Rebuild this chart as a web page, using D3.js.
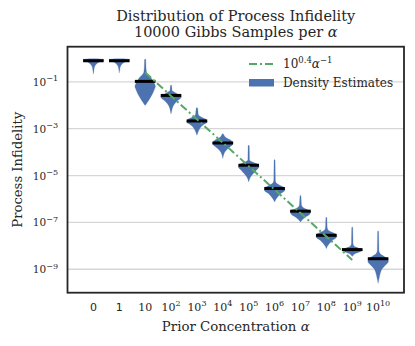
<!DOCTYPE html>
<html><head><meta charset="utf-8">
<script src="https://cdn.jsdelivr.net/npm/d3@7"></script>
<style>
html,body{margin:0;padding:0;background:#fff;}
svg{display:block;}
text{font-family:"DejaVu Serif",serif;fill:#262626;}
</style></head>
<body>
<svg id="chart" width="415" height="346"></svg>
<script>
// ---- data ----
const categories = ["0","1","10","10^2","10^3","10^4","10^5","10^6","10^7","10^8","10^9","10^10"];
// log10 of median process infidelity per prior concentration
const medianLog = [-0.10,-0.10,-0.98,-1.58,-2.67,-3.61,-4.56,-5.55,-6.52,-7.55,-8.16,-8.55];
// density profiles: [log10 infidelity, relative density]
const density0 = [[-0.01,0],[-0.02,0.7],[-0.05,1.0],[-0.09,0.95],[-0.13,0.7],[-0.17,0.48],[-0.24,0.3],[-0.30,0.18],[-0.36,0.12],[-0.45,0.07],[-0.55,0.04],[-0.67,0]];
const density1 = [[-0.01,0],[-0.02,0.7],[-0.05,1.0],[-0.09,0.95],[-0.13,0.68],[-0.17,0.45],[-0.24,0.28],[-0.30,0.16],[-0.36,0.1],[-0.45,0.06],[-0.53,0.03],[-0.62,0]];
const density2 = [[-0.02,0],[-0.05,0.06],[-0.33,0.08],[-0.59,0.13],[-0.66,0.22],[-0.80,0.53],[-0.94,0.75],[-1.09,0.92],[-1.20,1.0],[-1.30,0.92],[-1.51,0.72],[-1.73,0.43],[-1.87,0.22],[-2.01,0]];
const density3 = [[-1.13,0],[-1.16,0.06],[-1.37,0.1],[-1.44,0.33],[-1.51,0.6],[-1.58,0.88],[-1.65,1.0],[-1.72,0.88],[-1.79,0.68],[-1.94,0.35],[-2.08,0.16],[-2.25,0.06],[-2.37,0]];
const density4 = [[-2.09,0],[-2.12,0.06],[-2.42,0.15],[-2.52,0.5],[-2.61,0.9],[-2.71,1.0],[-2.81,0.7],[-2.92,0.4],[-3.06,0.2],[-3.18,0.08],[-3.28,0]];
const density5 = [[-3.21,0],[-3.24,0.06],[-3.38,0.3],[-3.50,0.8],[-3.61,1.0],[-3.70,0.9],[-3.85,0.5],[-3.99,0.2],[-4.13,0.07],[-4.27,0]];
const density6 = [[-3.70,0],[-3.74,0.06],[-4.34,0.08],[-4.42,0.36],[-4.51,0.82],[-4.63,1.0],[-4.77,0.73],[-4.91,0.45],[-5.06,0.18],[-5.17,0.07],[-5.27,0]];
const density7 = [[-4.31,0],[-4.35,0.05],[-5.20,0.08],[-5.31,0.15],[-5.41,0.5],[-5.51,0.9],[-5.63,1.0],[-5.77,0.6],[-5.91,0.3],[-6.02,0.12],[-6.13,0]];
const density8 = [[-5.84,0],[-5.88,0.05],[-6.25,0.1],[-6.34,0.2],[-6.44,0.6],[-6.52,1.0],[-6.65,0.9],[-6.77,0.5],[-6.88,0.2],[-6.98,0]];
const density9 = [[-6.77,0],[-6.81,0.05],[-7.20,0.08],[-7.31,0.15],[-7.41,0.5],[-7.51,0.95],[-7.62,1.0],[-7.76,0.6],[-7.90,0.3],[-8.02,0.1],[-8.12,0]];
const density10 = [[-7.19,0],[-7.23,0.05],[-7.90,0.08],[-8.02,0.2],[-8.09,0.6],[-8.19,1.0],[-8.26,0.7],[-8.33,0.3],[-8.40,0.1],[-8.45,0]];
const density11 = [[-7.36,0],[-7.40,0.05],[-8.20,0.08],[-8.33,0.19],[-8.45,0.58],[-8.55,0.92],[-8.67,1.0],[-8.84,0.68],[-8.98,0.39],[-9.13,0.24],[-9.34,0.12],[-9.48,0.05],[-9.60,0]];
const densities = [density0,density1,density2,density3,density4,density5,density6,density7,density8,density9,density10,density11];
// fit line 10^0.4 * alpha^-1
const fitAlphaExp = [1,2,3,4,5,6,7,8,9];
const fitCoefLog = 0.4;
const yTickValues = [1e-1,1e-3,1e-5,1e-7,1e-9];
const yTickExp = ["\u22121","\u22123","\u22125","\u22127","\u22129"];

// ---- layout ----
const L = 67.5, R = 404, T = 46.7, B = 292.7;
const svg = d3.select("#chart");
const x = d3.scalePoint().domain(categories).range([L, R]).padding(1);
const y = d3.scaleLog().domain([1e-10, Math.pow(10, 0.5)]).range([B, T]);
const w = d3.scaleLinear().domain([0, 1]).range([0, 10.3]);
const blue = "#4c72b0", green = "#55a868";

// grid
svg.append("g").selectAll("line").data(yTickValues).join("line")
  .attr("x1", L).attr("x2", R).attr("y1", d => y(d)).attr("y2", d => y(d))
  .attr("stroke", "#d6d6d6").attr("stroke-width", 1.3);

// violins
const area = d3.area()
  .y(d => y(Math.pow(10, d[0])))
  .curve(d3.curveMonotoneY);
densities.forEach((prof, i) => {
  const cx = x(categories[i]);
  svg.append("path").datum(prof)
    .attr("d", area.x0(d => cx - w(d[1])).x1(d => cx + w(d[1])))
    .attr("fill", blue).attr("stroke", blue).attr("stroke-width", 0.4).attr("stroke-opacity", 0.6);
});
// medians
svg.append("g").selectAll("line").data(medianLog).join("line")
  .attr("x1", (d, i) => x(categories[i]) - 10.3).attr("x2", (d, i) => x(categories[i]) + 10.3)
  .attr("y1", d => y(Math.pow(10, d))).attr("y2", d => y(Math.pow(10, d)))
  .attr("stroke", "#000").attr("stroke-width", 3);

// fit line
const fitLine = d3.line()
  .x(e => x(categories[e + 1]))
  .y(e => y(Math.pow(10, fitCoefLog - e)));
svg.append("path").datum(fitAlphaExp).attr("d", fitLine)
  .attr("fill", "none").attr("stroke", green).attr("stroke-width", 2)
  .attr("stroke-dasharray", "8,3,2,3");

// frame
svg.append("rect").attr("x", L).attr("y", T).attr("width", R - L).attr("height", B - T)
  .attr("fill", "none").attr("stroke", "#262626").attr("stroke-width", 1.8);

// y tick labels
const yt = svg.append("g").selectAll("text").data(yTickValues).join("text")
  .attr("x", 58).attr("y", d => y(d) + 4).attr("text-anchor", "end").attr("font-size", 10.5);
yt.each(function(d, i) {
  const t = d3.select(this);
  t.append("tspan").text("10");
  t.append("tspan").attr("dy", -4.5).attr("font-size", 8).text(yTickExp[i]);
});

// x tick labels
const xt = svg.append("g").selectAll("text").data(categories).join("text")
  .attr("x", d => x(d)).attr("y", 310.5).attr("text-anchor", "middle").attr("font-size", 11);
xt.each(function(d) {
  const t = d3.select(this);
  const parts = d.split("^");
  if (parts.length === 1 && (d === "0" || d === "1")) {
    t.style("font-family", "'DejaVu Sans',sans-serif").text(d);
  } else {
    t.append("tspan").text(parts[0]);
    if (parts[1]) t.append("tspan").attr("dy", -4.5).attr("font-size", 8).text(parts[1]);
  }
});

// axis labels
const xl = svg.append("text").attr("x", (L + R) / 2).attr("y", 330.5).attr("text-anchor", "middle").attr("font-size", 13.3);
xl.append("tspan").text("Prior Concentration ");
xl.append("tspan").attr("font-style", "italic").text("\u03b1");
svg.append("text").attr("transform", `translate(22,${(T + B) / 2}) rotate(-90)`)
  .attr("text-anchor", "middle").attr("font-size", 13.2).text("Process Infidelity");

// title
svg.append("text").attr("x", (L + R) / 2).attr("y", 21).attr("text-anchor", "middle").attr("font-size", 14.5)
  .text("Distribution of Process Infidelity");
const t2 = svg.append("text").attr("x", (L + R) / 2).attr("y", 37).attr("text-anchor", "middle").attr("font-size", 14.5);
t2.append("tspan").text("10000 Gibbs Samples per ");
t2.append("tspan").attr("font-style", "italic").text("\u03b1");

// legend
const lg = svg.append("g");
lg.append("line").attr("x1", 249).attr("x2", 274).attr("y1", 64).attr("y2", 64)
  .attr("stroke", green).attr("stroke-width", 2).attr("stroke-dasharray", "8,3,2,3");
const lt = lg.append("text").attr("x", 283).attr("y", 67.5).attr("font-size", 12);
lt.append("tspan").text("10");
lt.append("tspan").attr("dy", -5).attr("font-size", 8.5).text("0.4");
lt.append("tspan").attr("dy", 5).attr("font-style", "italic").text("\u03b1");
lt.append("tspan").attr("dy", -5).attr("font-size", 8.5).text("\u22121");
lg.append("rect").attr("x", 249).attr("y", 79).attr("width", 25).attr("height", 7.5).attr("fill", blue);
lg.append("text").attr("x", 283).attr("y", 87).attr("font-size", 12).text("Density Estimates");
</script>
</body></html>
